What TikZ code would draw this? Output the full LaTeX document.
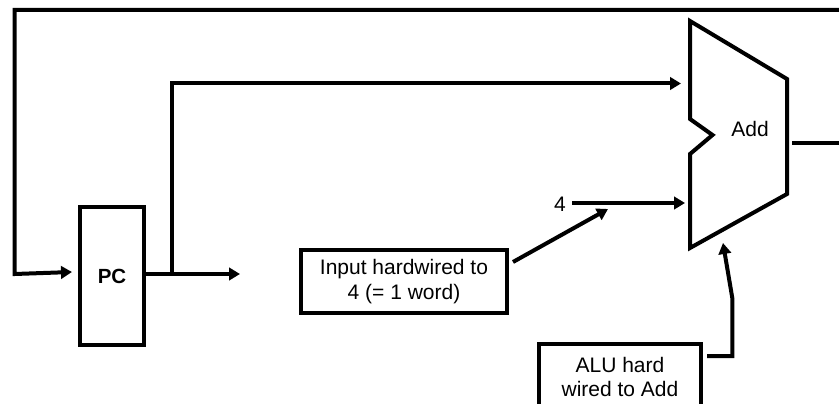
\documentclass[tikz,border=0pt]{standalone}
\usepackage{fontspec}
\setmainfont{Liberation Sans}
\usetikzlibrary{arrows.meta}
\tikzset{
  wire/.style={line width=4pt},
  arrowwire/.style={wire,-{Triangle[length=11pt,width=12.5pt]}},
  labelbox/.style={draw,line width=4pt,align=center,inner sep=0pt,font=\fontsize{21}{24.5}\selectfont},
  plainlabel/.style={inner sep=0pt,font=\fontsize{21}{24.5}\selectfont}
}
\begin{document}
\begin{tikzpicture}[x=1pt,y=-1pt]
    \useasboundingbox (0,0) rectangle (839,404);
    % boxes
    \node [labelbox,minimum width=64pt,minimum height=138pt,font=\fontsize{20.5}{24.5}\selectfont\bfseries] (pcbox) at (112,276) {PC};
    \node [labelbox,minimum width=206pt,minimum height=63.5pt] (inputbox) at (404,281.5) {Input hardwired to\\4 (= 1 word)};
    \node [labelbox,minimum width=162.5pt,minimum height=66pt] (alubox) at (620,377) {ALU hard\\wired to Add};
    % adder outline
    \coordinate (addtl) at (690,21);
    \coordinate (addtr) at (787,79);
    \coordinate (addbr) at (787,194);
    \coordinate (addbl) at (690,248);
    \coordinate (addnotcha) at (690,154);
    \coordinate (addnotchb) at (712.5,135);
    \coordinate (addnotchc) at (690,119);
    \draw [wire] (addtl) -- (addtr) -- (addbr) -- (addbl) -- (addnotcha) -- (addnotchb) -- (addnotchc) -- cycle;
    \node [plainlabel] (addlabel) at (750,129) {Add};
    \node [plainlabel] (fourlabel) at (560,204) {4};
    % free ends of the wires
    \coordinate (backright) at (839,10);
    \coordinate (backtop) at (14.7,10);
    \coordinate (backdown) at (14.7,274);
    \coordinate (pcin) at (72,272);
    \coordinate (pcout) at (144,274);
    \coordinate (pcend) at (240,274);
    \coordinate (branch) at (172.3,274);
    \coordinate (branchtop) at (172.3,83.5);
    \coordinate (addina) at (681,83.5);
    \coordinate (fourstart) at (572,203);
    \coordinate (addinb) at (685,203);
    \coordinate (inputstart) at (513,262);
    \coordinate (inputend) at (608,209);
    \coordinate (alustart) at (707,356);
    \coordinate (alucorner) at (732.3,356);
    \coordinate (alubend) at (732.3,298);
    \coordinate (aluend) at (723,243);
    \coordinate (addout) at (792,143);
    \coordinate (addoutend) at (839,143);
    % wires
    \draw [arrowwire] (backright) -- (backtop) -- (backdown) -- (pcin);
    \draw [arrowwire] (pcout) -- (pcend);
    \draw [arrowwire] (branch) -- (branchtop) -- (addina);
    \draw [arrowwire] (fourstart) -- (addinb);
    \draw [arrowwire] (inputstart) -- (inputend);
    \draw [arrowwire] (alustart) -- (alucorner) -- (alubend) -- (aluend);
    \draw [wire] (addout) -- (addoutend);
\end{tikzpicture}
\end{document}
